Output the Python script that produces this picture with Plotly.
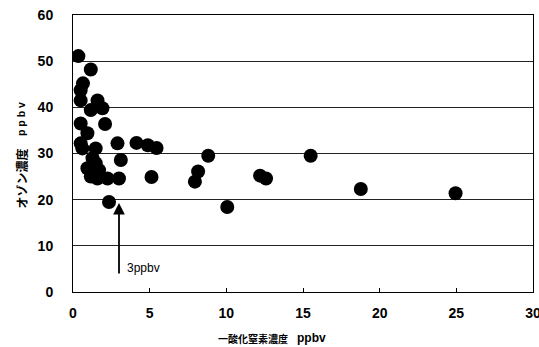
import plotly.graph_objects as go

# NO (ppbv) vs O3 (ppbv)
no_ppbv = [0.35, 1.16, 0.65, 0.5, 0.5, 1.6, 1.92, 1.16, 0.5, 2.09, 0.94, 0.5, 0.61, 1.48,
           2.9, 4.14, 4.88, 5.45, 3.12, 1.27, 1.48, 0.94, 1.7, 1.16, 1.59, 2.25, 3.0, 5.12,
           2.35, 8.82, 8.16, 7.95, 10.06, 12.2, 12.59, 15.5, 18.77, 24.95]
o3_ppbv = [51.1, 48.2, 45.2, 43.7, 41.5, 41.5, 39.8, 39.4, 36.5, 36.4, 34.4, 32.2, 31.1, 31.1,
           32.2, 32.3, 31.8, 31.2, 28.6, 29.0, 27.9, 26.8, 26.4, 25.0, 24.6, 24.6, 24.6, 24.9,
           19.5, 29.5, 26.1, 23.9, 18.4, 25.2, 24.6, 29.5, 22.3, 21.4]

x_ticks = [0, 5, 10, 15, 20, 25, 30]
y_ticks = [0, 10, 20, 30, 40, 50, 60]

x_title_main = "一酸化窒素濃度"
y_title_main = "オゾン濃度"
x_unit_text = "ppbv"
y_unit_text = "p p b v"
arrow_label = "3ppbv"
arrow_x = 3
arrow_tip_y = 19.3
arrow_tail_y = 3.7

fig = go.Figure()
fig.add_trace(go.Scatter(
    x=no_ppbv, y=o3_ppbv, mode="markers",
    marker=dict(size=14, color="black", line=dict(width=0)),
    showlegend=False, hoverinfo="x+y",
))

tick_font = dict(family="Liberation Sans, Arial, sans-serif", size=14, color="black", weight="bold")
cjk = "Noto Sans CJK JP, sans-serif"
latin = "Liberation Sans, Arial, sans-serif"

fig.update_xaxes(
    range=[0, 30], tickvals=x_ticks, ticktext=[str(v) for v in x_ticks],
    showgrid=False, zeroline=False, showline=True, linecolor="black", linewidth=1,
    mirror=True, ticks="inside", ticklen=4, tickcolor="black", tickfont=tick_font,
    ticklabelstandoff=8, automargin=False, ticklabeloverflow="allow",
)
fig.update_yaxes(
    range=[0, 60], tickvals=y_ticks, ticktext=[str(v) for v in y_ticks],
    showgrid=True, gridcolor="#222222", gridwidth=1, zeroline=False,
    showline=True, linecolor="black", linewidth=1, mirror=True,
    ticks="", tickfont=tick_font, ticklabelstandoff=16, automargin=False,
    ticklabeloverflow="allow",
)

fig.add_annotation(
    x=arrow_x, y=arrow_tip_y, ax=arrow_x, ay=arrow_tail_y,
    xref="x", yref="y", axref="x", ayref="y",
    showarrow=True, arrowhead=2, arrowsize=1.3, arrowwidth=1.8, arrowcolor="black",
    text="",
)
fig.add_annotation(
    x=arrow_x + 0.4, y=5.1, xref="x", yref="y", showarrow=False,
    text=arrow_label, xanchor="left", yanchor="middle",
    font=dict(family=latin, size=12, color="black"),
)

# plot area: x 73..533 px, y 15..292 px
def px_x(p):
    return (p - 73) / 460.0

def px_y(p):
    return (292 - p) / 277.0

# x title pieces
fig.add_annotation(
    x=px_x(252.5), y=px_y(338), xref="paper", yref="paper", showarrow=False,
    text=x_title_main, xanchor="center", yanchor="middle",
    font=dict(family=cjk, size=10, color="black", weight="bold"),
)
fig.add_annotation(
    x=px_x(311), y=px_y(338), xref="paper", yref="paper", showarrow=False,
    text=x_unit_text, xanchor="center", yanchor="middle",
    font=dict(family=latin, size=12, color="black", weight="bold"),
)
# y title pieces
fig.add_annotation(
    x=px_x(21), y=px_y(178.5), xref="paper", yref="paper", showarrow=False,
    text=y_title_main, textangle=-90, xanchor="center", yanchor="middle",
    font=dict(family=cjk, size=12, color="black", weight="bold"),
)
fig.add_annotation(
    x=px_x(21), y=px_y(119), xref="paper", yref="paper", showarrow=False,
    text=y_unit_text, textangle=-90, xanchor="center", yanchor="middle",
    font=dict(family=latin, size=10.5, color="black", weight="bold"),
)

fig.update_layout(
    width=539, height=347, autosize=False,
    margin=dict(l=73, r=6, t=15, b=55),
    plot_bgcolor="white", paper_bgcolor="white",
)

fig.write_html(
    "out.html",
    config={"displayModeBar": False},
    post_script="document.body.style.margin='0';document.body.style.overflow='hidden';",
)
